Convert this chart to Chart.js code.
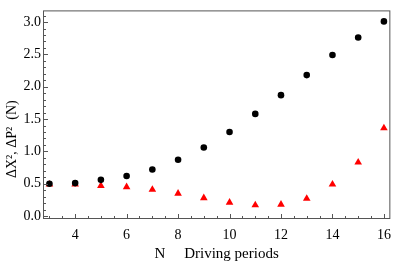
<!DOCTYPE html>
<html>
  <head>
    <title>Driving periods</title>
    <script src="https://cdn.jsdelivr.net/npm/chart.js"></script>
    <style>
      body {
        margin: 0;
        background: white;
        overflow: hidden;
      }
      canvas {
        display: block;
      }
    </style>
  </head>
  <body>
    <canvas id="chart" width="399" height="261"></canvas>

    <script>
      var periods = [3, 4, 5, 6, 7, 8, 9, 10, 11, 12, 13, 14, 15, 16];
      var deltaX2 = [0.5, 0.51, 0.56, 0.62, 0.72, 0.87, 1.06, 1.3, 1.58, 1.87, 2.18, 2.49, 2.76, 3.01];
      var deltaP2 = [0.49, 0.49, 0.47, 0.45, 0.41, 0.35, 0.28, 0.21, 0.17, 0.18, 0.27, 0.49, 0.83, 1.36];
      var xTickLabels = [4, 6, 8, 10, 12, 14, 16];
      var yTickLabels = [0, 0.5, 1, 1.5, 2, 2.5, 3];

      const serif = "'Liberation Serif', 'Times New Roman', serif";
      const frameColor = "#555";

      // frame + inward ticks, like the original
      const framePlugin = {
        id: "frame",
        afterDatasetsDraw(chart) {
          const { ctx, chartArea: a, scales } = chart;
          ctx.save();
          ctx.strokeStyle = frameColor;
          ctx.lineWidth = 1;
          ctx.strokeRect(a.left + 0.5, a.top + 0.5, a.right - a.left - 1, a.bottom - a.top - 1);
          ctx.beginPath();
          for (let i = 0; i <= 31; i++) {
            const v = i / 10;
            const y = Math.round(scales.y.getPixelForValue(v)) + 0.5;
            const len = i % 5 === 0 ? 5 : 3;
            ctx.moveTo(a.left, y);
            ctx.lineTo(a.left + len, y);
          }
          for (let i = 6; i <= 32; i++) {
            const v = i / 2;
            const x = Math.round(scales.x.getPixelForValue(v)) + 0.5;
            const len = v % 2 === 0 ? 5 : 3;
            ctx.moveTo(x, a.bottom);
            ctx.lineTo(x, a.bottom - len);
          }
          ctx.stroke();
          ctx.restore();
        },
      };

      new Chart(document.getElementById("chart"), {
        type: "scatter",
        data: {
          datasets: [
            {
              data: periods.map((n, i) => ({ x: n, y: deltaX2[i] })),
              pointStyle: "circle",
              pointRadius: 3.3,
              backgroundColor: "#000",
              borderWidth: 0,
            },
            {
              data: periods.map((n, i) => ({ x: n, y: deltaP2[i] })),
              pointStyle: "triangle",
              pointRadius: 4.4,
              backgroundColor: "#f00",
              borderWidth: 0,
            },
          ],
        },
        options: {
          responsive: false,
          animation: false,
          layout: { padding: { top: 1, right: 2 } },
          plugins: {
            legend: { display: false },
            tooltip: { enabled: false },
          },
          scales: {
            x: {
              min: 2.75,
              max: 16.25,
              grid: { display: false, drawTicks: false },
              border: { display: false },
              afterBuildTicks: (s) => {
                s.ticks = xTickLabels.map((v) => ({ value: v }));
              },
              afterFit: (s) => {
                s.height = 42;
              },
              ticks: {
                color: "#000",
                padding: 8,
                maxRotation: 0,
                font: { family: serif, size: 14 },
              },
              title: {
                display: true,
                text: "N     Driving periods",
                color: "#000",
                padding: { top: 0, bottom: -2 },
                font: { family: serif, size: 15 },
              },
            },
            y: {
              min: -0.045,
              max: 3.18,
              grid: { display: false, drawTicks: false },
              border: { display: false },
              afterBuildTicks: (s) => {
                s.ticks = yTickLabels.map((v) => ({ value: v }));
              },
              afterFit: (s) => {
                s.width = 43;
              },
              ticks: {
                color: "#000",
                padding: 2,
                font: { family: serif, size: 14 },
                callback: (v) => Number(v).toFixed(1),
              },
              title: {
                display: true,
                text: "\u0394X\u00b2, \u0394P\u00b2  (N)              ",
                color: "#000",
                padding: { top: 4, bottom: 0 },
                font: { family: serif, size: 14 },
              },
            },
          },
        },
        plugins: [framePlugin],
      });
    </script>
  </body>
</html>
